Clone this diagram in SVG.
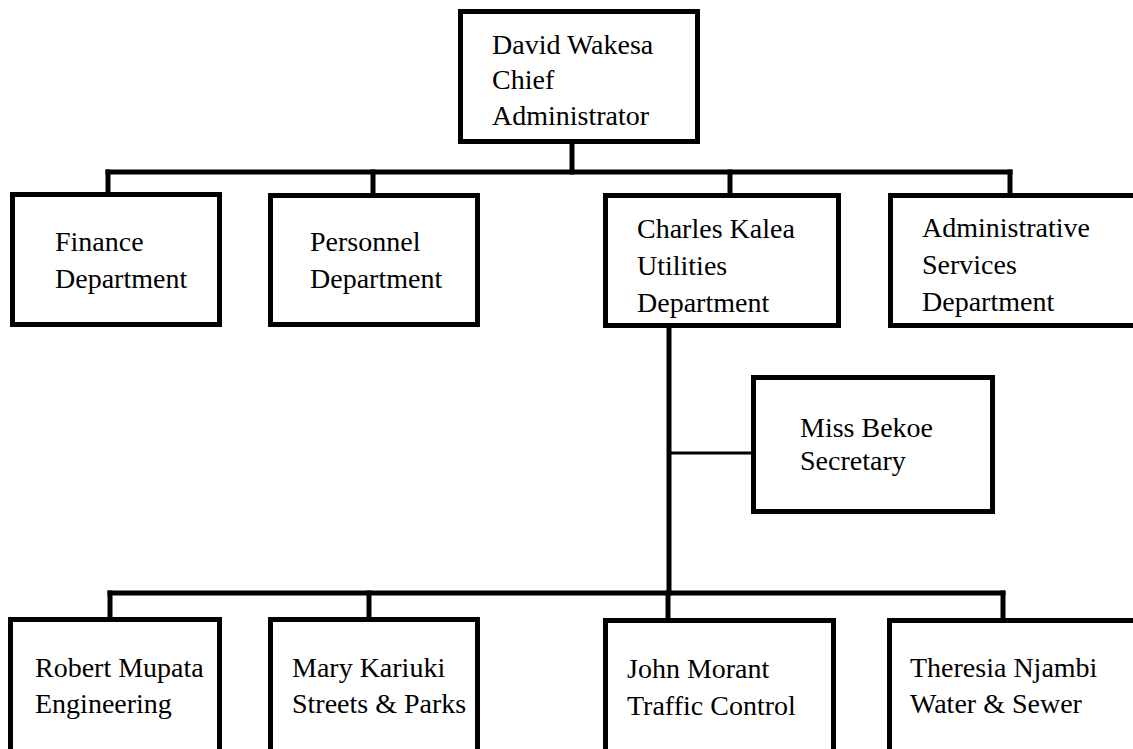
<svg xmlns="http://www.w3.org/2000/svg" width="1133" height="749" viewBox="0 0 1133 749">
<style>
.box{fill:#fff;stroke:#000;stroke-width:5}
.ln{stroke:#000;stroke-width:5;fill:none;stroke-linecap:square}
.thin{stroke:#000;stroke-width:3;fill:none}
text{font-family:"Liberation Serif","Times New Roman",serif;font-size:28px;fill:#000}
</style>
<rect width="1133" height="749" fill="#fff"/>
<g id="connectors">
<line class="ln" x1="572" y1="144" x2="572" y2="172"/>
<line class="ln" x1="108" y1="172" x2="1010" y2="172"/>
<line class="ln" x1="108" y1="172" x2="108" y2="192"/>
<line class="ln" x1="373" y1="172" x2="373" y2="193"/>
<line class="ln" x1="730" y1="172" x2="730" y2="193"/>
<line class="ln" x1="1010" y1="172" x2="1010" y2="193"/>
<line class="ln" x1="669" y1="328" x2="669" y2="593"/>
<line class="thin" x1="669" y1="453" x2="751" y2="453"/>
<line class="ln" x1="110" y1="593" x2="1003" y2="593"/>
<line class="ln" x1="110" y1="593" x2="110" y2="617"/>
<line class="ln" x1="369" y1="593" x2="369" y2="617"/>
<line class="ln" x1="668" y1="593" x2="668" y2="618"/>
<line class="ln" x1="1003" y1="593" x2="1003" y2="618"/>
</g>
<g id="chief">
<rect class="box" x="460.5" y="11.5" width="237" height="130"/>
<text x="492" y="54">David Wakesa</text>
<text x="492" y="89">Chief</text>
<text x="492" y="125">Administrator</text>
</g>
<g id="finance">
<rect class="box" x="12.5" y="194.5" width="207" height="130"/>
<text x="55" y="251">Finance</text>
<text x="55" y="288">Department</text>
</g>
<g id="personnel">
<rect class="box" x="270.5" y="195.5" width="207" height="129"/>
<text x="310" y="251">Personnel</text>
<text x="310" y="288">Department</text>
</g>
<g id="utilities">
<rect class="box" x="605.5" y="195.5" width="233" height="130"/>
<text x="637" y="238">Charles Kalea</text>
<text x="637" y="275">Utilities</text>
<text x="637" y="312">Department</text>
</g>
<g id="admin">
<rect class="box" x="890.5" y="195.5" width="250" height="130"/>
<text x="922" y="237">Administrative</text>
<text x="922" y="274">Services</text>
<text x="922" y="311">Department</text>
</g>
<g id="secretary">
<rect class="box" x="753.5" y="377.5" width="239" height="134"/>
<text x="800" y="437">Miss Bekoe</text>
<text x="800" y="470">Secretary</text>
</g>
<g id="engineering">
<rect class="box" x="10.5" y="619.5" width="209" height="150"/>
<text x="35" y="677">Robert Mupata</text>
<text x="35" y="713">Engineering</text>
</g>
<g id="streets">
<rect class="box" x="270.5" y="619.5" width="207" height="150"/>
<text x="292" y="677">Mary Kariuki</text>
<text x="292" y="713">Streets &amp; Parks</text>
</g>
<g id="traffic">
<rect class="box" x="605.5" y="620.5" width="228" height="150"/>
<text x="627" y="678">John Morant</text>
<text x="627" y="715">Traffic Control</text>
</g>
<g id="water">
<rect class="box" x="889.5" y="620.5" width="250" height="150"/>
<text x="910" y="677">Theresia Njambi</text>
<text x="910" y="713">Water &amp; Sewer</text>
</g>
</svg>
